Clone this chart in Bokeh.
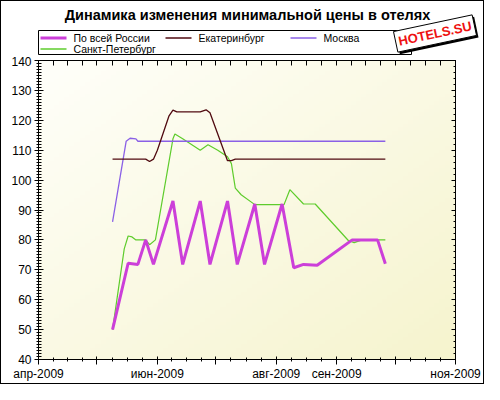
import json
import numpy as np
import pandas as pd
from bokeh.plotting import figure
from bokeh.layouts import column
from bokeh.models import (Range1d, FixedTicker, SingleIntervalTicker, DatetimeAxis, LinearAxis,
                          Label, ColumnDataSource, CustomLabelingPolicy)
from bokeh.core.properties import value
from bokeh.embed import file_html
from bokeh.resources import INLINE

# ---------------- data ----------------
chart_title = "Динамика изменения минимальной цены в отелях"
stamp_text = "HOTELS.SU"
series_names = ["По всей России", "Екатеринбург", "Москва", "Санкт-Петербург"]

russia_dates = ["2009-05-09", "2009-05-17", "2009-05-22", "2009-05-26", "2009-05-30",
                "2009-06-09", "2009-06-14", "2009-06-23", "2009-06-28", "2009-07-07",
                "2009-07-12", "2009-07-21", "2009-07-26", "2009-08-04", "2009-08-10",
                "2009-08-15", "2009-08-22", "2009-09-09", "2009-09-22", "2009-09-26"]
russia_values = [50, 72.2, 71.8, 80, 71.8,
                 93, 71.8, 93, 71.8, 93,
                 71.8, 92, 71.8, 92, 70.7,
                 71.8, 71.5, 80, 80, 72]

ekb_dates = ["2009-05-09", "2009-05-26", "2009-05-28", "2009-05-30", "2009-06-01",
             "2009-06-07", "2009-06-09", "2009-06-11", "2009-06-23", "2009-06-26",
             "2009-06-28", "2009-07-07", "2009-07-09", "2009-07-11", "2009-09-26"]
ekb_values = [107, 107, 106.2, 107, 110,
              121.5, 123.4, 122.8, 122.8, 123.5,
              122.5, 106.5, 106.5, 107, 107]

msk_dates = ["2009-05-09", "2009-05-16", "2009-05-18", "2009-05-21", "2009-05-22", "2009-09-26"]
msk_values = [86, 113, 114, 113.8, 113, 113]

spb_dates = ["2009-05-09", "2009-05-15", "2009-05-17", "2009-05-19", "2009-05-21",
             "2009-05-26", "2009-05-28", "2009-05-31", "2009-06-09", "2009-06-10",
             "2009-06-14", "2009-06-23", "2009-06-27", "2009-07-02", "2009-07-07",
             "2009-07-09", "2009-07-11", "2009-07-14", "2009-07-21", "2009-08-05",
             "2009-08-08", "2009-08-15", "2009-08-21", "2009-09-07", "2009-09-10",
             "2009-09-14", "2009-09-26"]
spb_values = [50, 77, 81.3, 81, 80,
              80, 78.4, 80, 113.8, 115.4,
              113.8, 110, 111.8, 110, 107.8,
              105.5, 97.3, 95.1, 91.8, 91.8,
              96.8, 92, 92, 79.8, 79.1,
              80, 80]

month_starts = ["2009-04-01", "2009-05-01", "2009-06-01", "2009-07-01",
                "2009-08-01", "2009-09-01", "2009-10-01", "2009-11-01"]
month_labels = ["апр-2009", "", "июн-2009", "", "авг-2009", "сен-2009", "", "ноя-2009"]
y_min, y_max = 40, 140

colors = ["#CC3FD9", "#500A10", "#8A60E6", "#5ECC2C"]
widths = [3, 1.3, 1.3, 1.2]


def ms(s):
    return int(pd.Timestamp(s).value // 10**6)


major_ms = [ms(d) for d in month_starts]
minor_ms = []
for a, b in zip(major_ms[:-1], major_ms[1:]):
    for k in (1, 2, 3):
        minor_ms.append(a + (b - a) * k / 4)

FONT = "Liberation Sans"
W = 482
HEAD_H = 55

# labeling policies: hide every label (mirror axes) / hide the blank month labels
hide_all = CustomLabelingPolicy(code="""
for (const i of Array.from(indices)) { indices.unset(i) }
return indices
""")
blank_idx = [i for i, lab in enumerate(month_labels) if not lab]
hide_blank = CustomLabelingPolicy(code="""
const blank = %s
for (const i of Array.from(indices)) { if (blank.includes(i)) { indices.unset(i) } }
return indices
""" % json.dumps(blank_idx))

# ---------------- header (title, legend, stamp) in pixel coordinates ----------------
h = figure(width=W, height=HEAD_H, x_range=Range1d(0, W), y_range=Range1d(HEAD_H, 0),
           output_backend="svg", toolbar_location=None,
           x_axis_location=None, y_axis_location=None,
           min_border=0, min_border_left=0, min_border_right=0, min_border_top=0, min_border_bottom=0,
           border_fill_color="white", background_fill_color="white")
h.frame_align = False
h.title.visible = False
h.xgrid.visible = False
h.ygrid.visible = False
h.outline_line_color = None

h.add_layout(Label(x=246, y=13, text=chart_title, text_align="center", text_baseline="middle",
                   text_font=FONT, text_font_size="14.5px", text_font_style="bold",
                   text_color="black"))

# legend box (3 columns x 2 rows)
LEG_LEFT, LEG_RIGHT, LEG_TOP, LEG_BOTTOM = 37, 410, 29, 53
COL_X = [39, 164, 289]
ROW_Y = [36.5, 47.5]
h.quad(left=[LEG_LEFT], right=[LEG_RIGHT], top=[LEG_TOP], bottom=[LEG_BOTTOM],
       fill_color="white", line_color="black", line_width=1)
leg = dict(x0=[], x1=[], y=[], tx=[], label=[], color=[], width=[])
for i, name in enumerate(series_names):
    cx = COL_X[i % 3]
    ry = ROW_Y[i // 3]
    leg["x0"].append(cx)
    leg["x1"].append(cx + 26)
    leg["y"].append(ry)
    leg["tx"].append(cx + 33)
    leg["label"].append(name)
    leg["color"].append(colors[i])
    leg["width"].append(widths[i] if i == 0 else 1.5)
lsrc = ColumnDataSource(leg)
h.segment(x0="x0", x1="x1", y0="y", y1="y", source=lsrc, line_color="color", line_width="width")
h.text(x="tx", y="y", text="label", source=lsrc, text_baseline="middle", text_align="left",
       text_font=value(FONT), text_font_size="10.5px", text_color="black")

# stamp
h.add_layout(Label(x=435.5, y=34, text=stamp_text,
                   angle=12, angle_units="deg", text_align="center", text_baseline="middle",
                   text_font=FONT, text_font_size="13px", text_font_style="bold",
                   text_color="black", background_fill_color="black", padding=3))
h.add_layout(Label(x=433.5, y=32, text=stamp_text,
                   angle=12, angle_units="deg", text_align="center", text_baseline="middle",
                   text_font=FONT, text_font_size="13px", text_font_style="bold",
                   text_color="#EE1111", background_fill_color="white",
                   border_line_color="black", border_line_width=1, padding=3))

# ---------------- main chart ----------------
p = figure(width=W, height=382 - HEAD_H, x_axis_type="datetime",
           x_range=Range1d(major_ms[0], major_ms[-1]), y_range=Range1d(y_min, y_max),
           output_backend="svg", toolbar_location=None,
           min_border_left=37, min_border_right=28, min_border_top=4, min_border_bottom=22,
           border_fill_color="white", background_fill_color="#FDFCEA")
p.frame_align = False
p.title.visible = False
p.xgrid.visible = False
p.ygrid.visible = False
p.outline_line_color = "black"

# background gradient (white top-left -> pale yellow bottom-right)
nx, ny = 80, 80
u = np.linspace(0, 1, nx)[None, :]
v = np.linspace(0, 1, ny)[:, None]
t = (u + (1 - v)) / 2
c0 = np.array([255, 255, 250.0])
c1 = np.array([246, 244, 206.0])
rgb = c0 + (c1 - c0) * t[..., None]
img = np.empty((ny, nx), dtype=np.uint32)
view = img.view(dtype=np.uint8).reshape((ny, nx, 4))
view[..., 0] = rgb[..., 0]
view[..., 1] = rgb[..., 1]
view[..., 2] = rgb[..., 2]
view[..., 3] = 255
p.image_rgba(image=[img], x=major_ms[0], y=y_min, dw=major_ms[-1] - major_ms[0], dh=y_max - y_min)

all_dates = [russia_dates, ekb_dates, msk_dates, spb_dates]
all_values = [russia_values, ekb_values, msk_values, spb_values]
for i in [3, 2, 1, 0]:
    src = ColumnDataSource(dict(x=pd.to_datetime(all_dates[i]), y=all_values[i]))
    p.line("x", "y", source=src, line_color=colors[i], line_width=widths[i])

xa = p.xaxis[0]
xa.ticker = FixedTicker(ticks=major_ms, minor_ticks=minor_ms)
xa.major_label_overrides = {m: lab for m, lab in zip(major_ms, month_labels)}
xa.major_label_policy = hide_blank
xa.major_tick_in = 3
xa.major_tick_out = 5
xa.minor_tick_in = 2
xa.minor_tick_out = 2
xa.major_label_standoff = 2
xa.major_label_text_font = FONT
xa.major_label_text_font_size = "12px"
xa.major_label_text_color = "black"
xa.axis_line_color = "black"

ya = p.yaxis[0]
ya.ticker = SingleIntervalTicker(interval=10, num_minor_ticks=10)
ya.major_tick_in = 5
ya.major_tick_out = 4
ya.minor_tick_in = 3
ya.minor_tick_out = 2
ya.major_label_standoff = 3
ya.major_label_text_font = FONT
ya.major_label_text_font_size = "12px"
ya.major_label_text_color = "black"
ya.axis_line_color = "black"

top = DatetimeAxis(ticker=FixedTicker(ticks=major_ms, minor_ticks=minor_ms),
                   major_label_text_font_size="0px", major_label_standoff=0,
                   major_label_policy=hide_all,
                   major_tick_in=5, major_tick_out=0, minor_tick_in=5, minor_tick_out=0,
                   axis_line_color="black")
p.add_layout(top, "above")
right = LinearAxis(ticker=SingleIntervalTicker(interval=10, num_minor_ticks=5),
                   major_label_text_font_size="0px", major_label_standoff=0,
                   major_label_policy=hide_all,
                   major_tick_in=4, major_tick_out=0, minor_tick_in=2, minor_tick_out=0,
                   axis_line_color="black")
p.add_layout(right, "right")

layout = column(h, p, spacing=0, styles={"border": "1px solid black"})
open("out.html", "w").write(file_html(layout, INLINE))
